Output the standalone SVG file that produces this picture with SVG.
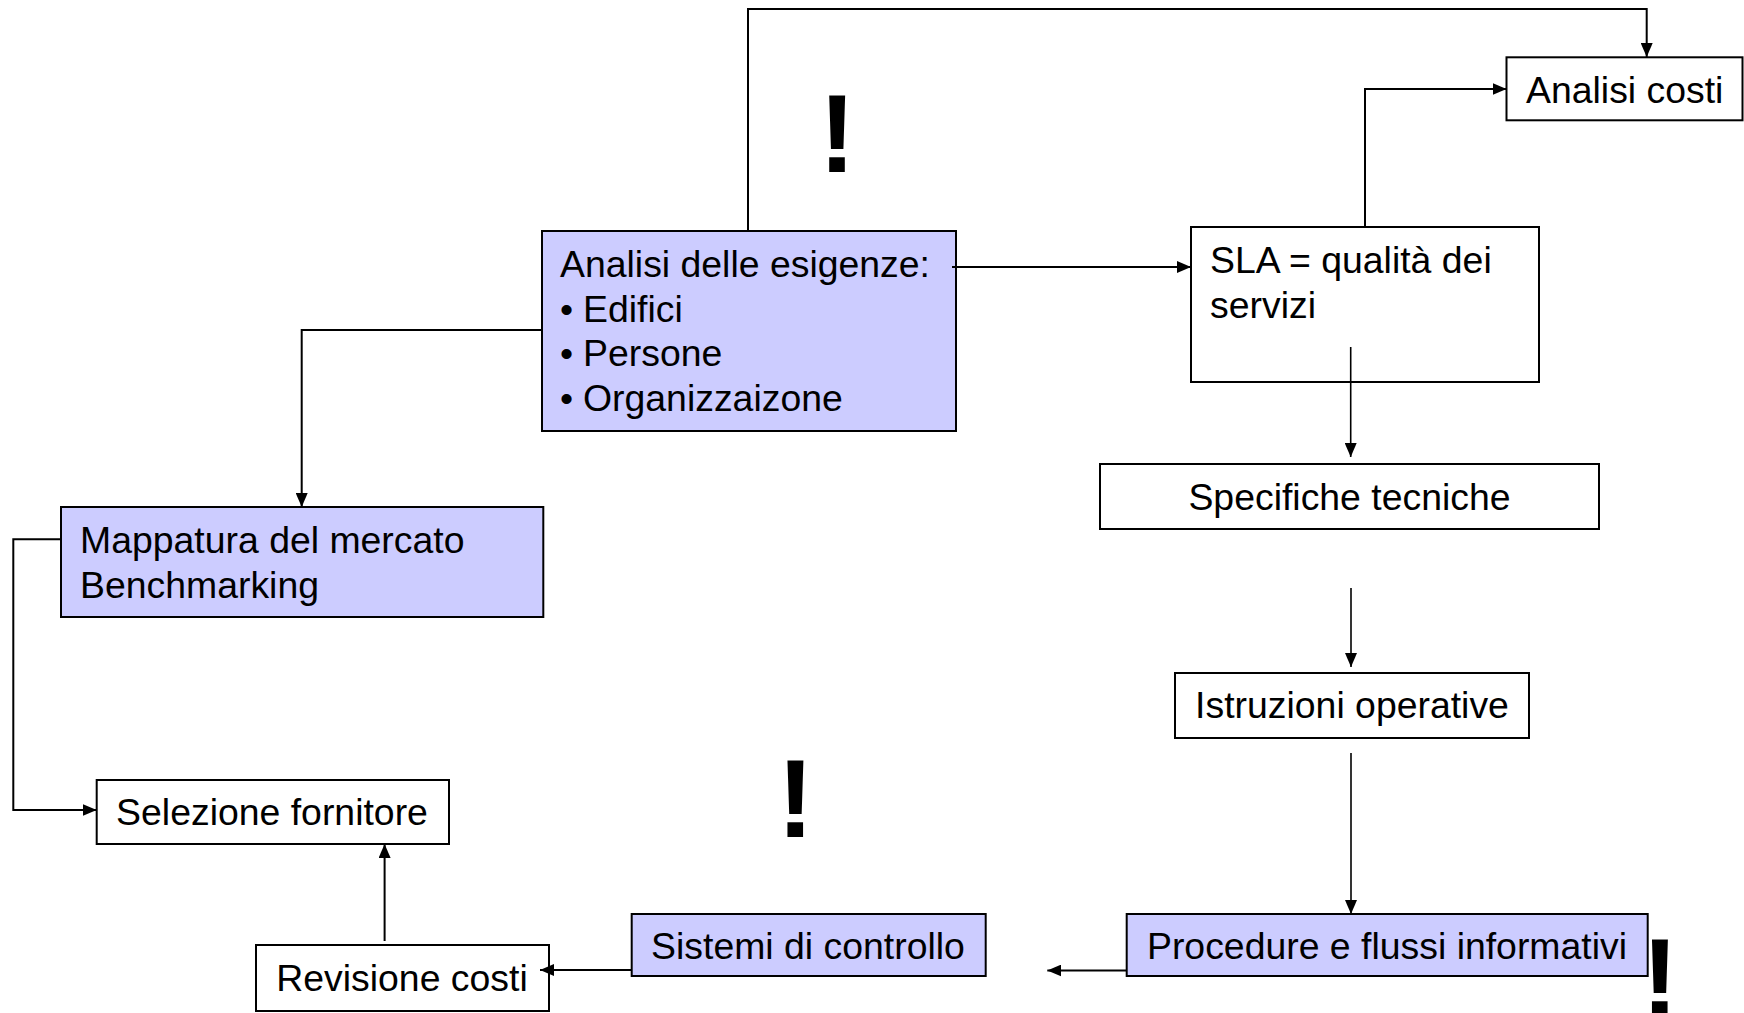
<svg xmlns="http://www.w3.org/2000/svg" width="1744" height="1013" viewBox="0 0 1744 1013">
  <style>
    .box { stroke: #000; stroke-width: 2; fill: #fff; }
    .hi { fill: #ccccff; }
    .lbl { font-family: "Liberation Sans", Arial, sans-serif; font-size: 37.4px; fill: #000; }
    .mid { text-anchor: middle; }
    .bang { font-family: "Liberation Sans", Arial, sans-serif; font-size: 111px; font-weight: bold; fill: #000; text-anchor: middle; }
    .wire { fill: none; stroke: #000; stroke-width: 2; marker-end: url(#arrow); }
    .thin { stroke-width: 1.6; }
  </style>
  <defs>
    <marker id="arrow" viewBox="0 0 14 12" refX="14" refY="6" markerWidth="14" markerHeight="12" markerUnits="userSpaceOnUse" orient="auto">
      <path d="M0,0 L14,6 L0,12 z" fill="#000"/>
    </marker>
  </defs>
  <rect width="1744" height="1013" fill="#fff"/>

  <!-- nodes -->
  <g id="analisi-esigenze">
    <rect class="box hi" x="542" y="231" width="414" height="200"/>
    <text class="lbl" x="560" y="277">Analisi delle esigenze:</text>
    <text class="lbl" x="560" y="321.5">•</text><text class="lbl" x="583" y="321.5">Edifici</text>
    <text class="lbl" x="560" y="366">•</text><text class="lbl" x="583" y="366">Persone</text>
    <text class="lbl" x="560" y="410.5">•</text><text class="lbl" x="583" y="410.5">Organizzaizone</text>
  </g>
  <g id="analisi-costi">
    <rect class="box" x="1506.5" y="57.3" width="236" height="63"/>
    <text class="lbl" x="1526" y="103.3">Analisi costi</text>
  </g>
  <g id="sla">
    <rect class="box" x="1191" y="227" width="348" height="155"/>
    <text class="lbl" x="1210" y="273">SLA = qualità dei</text>
    <text class="lbl" x="1210" y="317.5">servizi</text>
  </g>
  <g id="specifiche">
    <rect class="box" x="1100" y="464" width="499" height="65"/>
    <text class="lbl mid" x="1349.5" y="510">Specifiche tecniche</text>
  </g>
  <g id="istruzioni">
    <rect class="box" x="1175" y="673" width="354" height="65"/>
    <text class="lbl mid" x="1352" y="718">Istruzioni operative</text>
  </g>
  <g id="procedure">
    <rect class="box hi" x="1126.7" y="914" width="521" height="62"/>
    <text class="lbl mid" x="1387" y="958.5">Procedure e flussi informativi</text>
  </g>
  <g id="sistemi">
    <rect class="box hi" x="631.7" y="914" width="354" height="62"/>
    <text class="lbl mid" x="808" y="958.5">Sistemi di controllo</text>
  </g>
  <g id="revisione">
    <rect class="box" x="256" y="945" width="293" height="66"/>
    <text class="lbl mid" x="402" y="991">Revisione costi</text>
  </g>
  <g id="selezione">
    <rect class="box" x="96.7" y="780" width="352.3" height="64"/>
    <text class="lbl mid" x="272" y="825">Selezione fornitore</text>
  </g>
  <g id="mappatura">
    <rect class="box hi" x="61" y="507" width="482.3" height="110"/>
    <text class="lbl" x="80" y="553">Mappatura del mercato</text>
    <text class="lbl" x="80" y="598">Benchmarking</text>
  </g>

  <!-- connectors, drawn over the boxes -->
  <g id="connectors">
    <path class="wire" d="M748,231 V9 H1646.7 V57"/>
    <path class="wire" d="M952,267 H1191"/>
    <path class="wire" d="M1365,227 V89 H1506.5"/>
    <path class="wire" d="M542,330 H301.7 V507"/>
    <path class="wire" d="M61,539.3 H13.3 V810 H96.7"/>
    <path class="wire" d="M384.6,941 V844"/>
    <path class="wire" d="M631.7,970 H540"/>
    <path class="wire" d="M1126.7,970.5 H1047.3"/>
    <path class="wire thin" d="M1350.7,347 V457"/>
    <path class="wire thin" d="M1351,588 V667"/>
    <path class="wire thin" d="M1351,753 V914"/>
  </g>

  <!-- emphasis marks -->
  <text class="bang" x="837.3" y="172">!</text>
  <text class="bang" x="795.6" y="836.5">!</text>
  <text class="bang" x="1660" y="1016">!</text>
</svg>
